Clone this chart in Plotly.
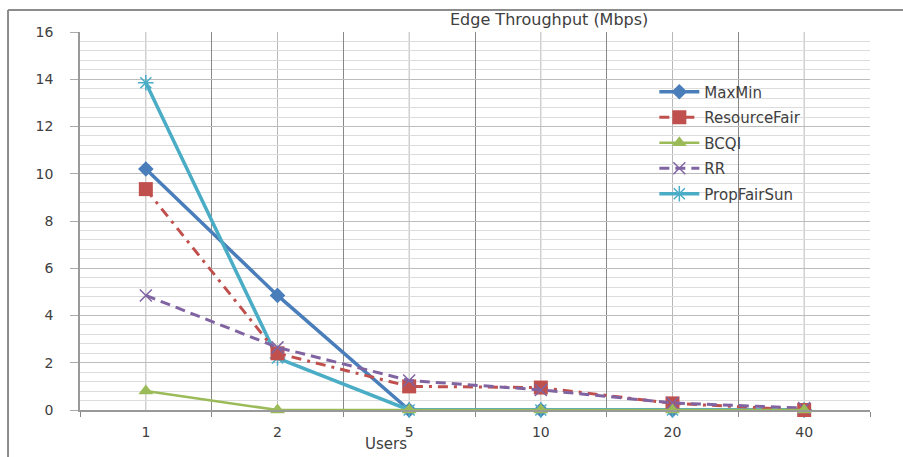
import plotly.graph_objects as go

users = ["1", "2", "5", "10", "20", "40"]
maxmin = [10.2, 4.85, 0, 0, 0, 0]
resourcefair = [9.35, 2.4, 1.0, 0.95, 0.28, 0.0]
bcqi = [0.8, 0, 0, 0, 0, 0]
rr = [4.85, 2.65, 1.25, 0.85, 0.3, 0.08]
propfairsun = [13.85, 2.2, 0, 0, 0, 0]
y_ticks = [0, 2, 4, 6, 8, 10, 12, 14, 16]

# (name, values, line, marker, legend rank)
series = [
    ("MaxMin", maxmin, dict(color="#4a7ebb", width=3.5, dash="solid"),
     dict(symbol="diamond", size=12, color="#4a7ebb"), 1),
    ("PropFairSun", propfairsun, dict(color="#4bacc6", width=3.5, dash="solid"),
     dict(symbol="asterisk", size=13, color="#4bacc6", line=dict(color="#4bacc6", width=1.5)), 5),
    ("ResourceFair", resourcefair, dict(color="#c0504d", width=3, dash="10px,6px,3px,6px"),
     dict(symbol="square", size=14, color="#c0504d"), 2),
    ("RR", rr, dict(color="#8064a2", width=3, dash="10px,6px"),
     dict(symbol="x-thin", size=12, color="#8064a2", line=dict(color="#8064a2", width=1.5)), 4),
    ("BCQI", bcqi, dict(color="#9bbb59", width=2.5, dash="solid"),
     dict(symbol="triangle-up", size=13, color="#9bbb59"), 3),
]

fig = go.Figure()
for i, (name, vals, line, marker, rank) in enumerate(series):
    fig.add_trace(go.Scatter(x=users, y=vals, name=name, mode="lines+markers",
                             line=line, marker=marker, legendgroup=f"g{i}",
                             legendrank=rank, cliponaxis=False))

# center vertical gridlines (lighter)
for i, u in enumerate(users):
    fig.add_shape(type="line", xref="x", yref="paper", x0=i, x1=i, y0=0, y1=1,
                  line=dict(color="#b8b8b8", width=1), layer="below")

fig.update_layout(
    width=903, height=457,
    margin=dict(l=80, r=33, t=32, b=47),
    paper_bgcolor="white", plot_bgcolor="white",
    font=dict(family="DejaVu Sans", size=13, color="#404040"),
    showlegend=True,
    legend=dict(x=0.727, y=0.885, xanchor="left", yanchor="top",
                bgcolor="rgba(255,255,255,0)", font=dict(size=15, color="#404040"),
                tracegroupgap=3, itemwidth=40, traceorder="grouped"),
    xaxis=dict(type="category", tickson="boundaries", ticks="outside", ticklen=5,
               tickcolor="#888888", showgrid=True, gridcolor="#888888", gridwidth=1,
               showline=True, linecolor="#999999", linewidth=1.5,
               ticklabelstandoff=8,
               range=[-0.5, 5.5], tickfont=dict(size=14, color="#404040")),
    yaxis=dict(range=[0, 16], tickvals=y_ticks, ticks="outside", ticklen=8,
               tickcolor="#aaaaaa", showgrid=True, gridcolor="#bdbdbd", gridwidth=1,
               showline=True, linecolor="#999999", linewidth=1.5, zeroline=False,
               ticklabelstandoff=14, tickfont=dict(size=14, color="#404040"),
               minor=dict(dtick=0.4, showgrid=True, gridcolor="#dcdcdc", gridwidth=1)),
    annotations=[
        dict(text="Edge Throughput (Mbps)", xref="paper", yref="paper", x=0.594, y=1.032,
             xanchor="center", yanchor="middle", showarrow=False,
             font=dict(size=16, color="#404040")),
        dict(text="Users", xref="paper", yref="paper", x=0.387, y=-0.09,
             xanchor="center", yanchor="middle", showarrow=False,
             font=dict(size=15, color="#404040")),
    ],
)

# outer chart frame (top and left edges)
fig.add_shape(type="line", xref="paper", yref="paper", x0=-0.0911, x1=1.05,
              y0=1.058, y1=1.058, line=dict(color="#8c8c8c", width=2))
fig.add_shape(type="line", xref="paper", yref="paper", x0=-0.0911, x1=-0.0911,
              y0=1.058, y1=-0.2, line=dict(color="#8c8c8c", width=2))

fig.write_html("out.html")
